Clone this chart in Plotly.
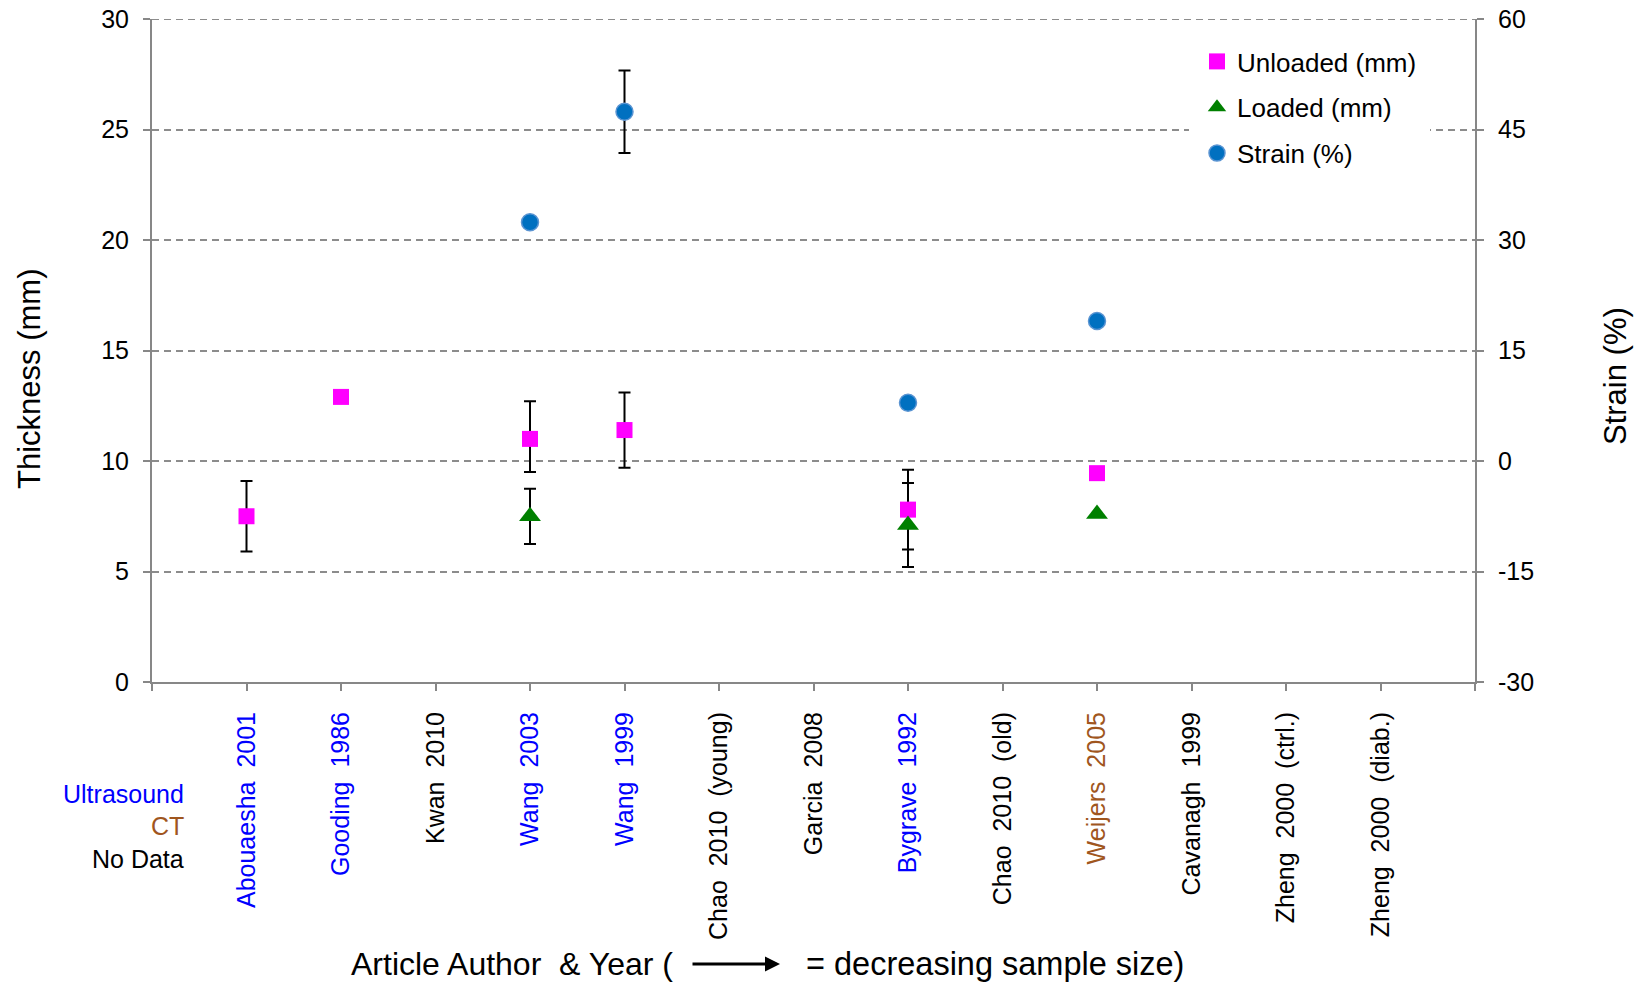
import plotly.graph_objects as go

# ---- data -------------------------------------------------------------
studies = [
    "Abouaesha  2001", "Gooding  1986", "Kwan  2010", "Wang  2003", "Wang  1999",
    "Chao  2010  (young)", "Garcia  2008", "Bygrave  1992", "Chao  2010  (old)",
    "Weijers  2005", "Cavanagh  1999", "Zheng  2000  (ctrl.)", "Zheng  2000  (diab.)",
]
modality = ["US", "US", "ND", "US", "US", "ND", "ND", "US", "ND", "CT", "ND", "ND", "ND"]

unloaded = [7.5, 12.9, None, 11.0, 11.4, None, None, 7.8, None, 9.45, None, None, None]
unloaded_err_plus = [1.6, None, None, 1.7, 1.7, None, None, 1.8, None, None, None, None, None]
unloaded_err_minus = [1.6, None, None, 1.5, 1.7, None, None, 1.8, None, None, None, None, None]

loaded = [None, None, None, 7.5, None, None, None, 7.1, None, 7.6, None, None, None]
loaded_err = [None, None, None, 1.25, None, None, None, 1.9, None, None, None, None, None]

strain = [None, None, None, 32.4, 47.4, None, None, 7.9, None, 19.0, None, None, None]
strain_err = [None, None, None, None, 5.6, None, None, None, None, None, None, None, None]

thickness_ticks = [0, 5, 10, 15, 20, 25, 30]
strain_ticks = [-30, -15, 0, 15, 30, 45, 60]
strain_tick_text = ["-30", "-15", "0", "15", "30", "45", "60"]

# ---- styling ----------------------------------------------------------
FONT = "Liberation Sans, Arial, sans-serif"
MOD_COLOR = {"US": "#0000FF", "CT": "#A0561E", "ND": "#000000"}
AXIS_GREY = "#878787"
GRID_GREY = "#8C8C8C"
GRID_DASH = "7px,5px"

W, H = 1641, 986
L, R, T, B = 152, 166, 19, 304
PW, PH = W - L - R, H - T - B


def px_x(x):
    return (x - L) / PW


def px_y(y):
    return (H - B - y) / PH


xpos = list(range(len(studies)))

fig = go.Figure()

# error bars first so the markers sit on top of them
err_style = dict(color="black", thickness=2, width=6)
fig.add_trace(go.Scatter(
    x=xpos, y=unloaded, mode="markers", marker=dict(size=1, opacity=0),
    error_y=dict(type="data", array=unloaded_err_plus, arrayminus=unloaded_err_minus,
                 symmetric=False, **err_style),
    showlegend=False, hoverinfo="skip"))
fig.add_trace(go.Scatter(
    x=xpos, y=loaded, mode="markers", marker=dict(size=1, opacity=0),
    error_y=dict(type="data", array=loaded_err, **err_style),
    showlegend=False, hoverinfo="skip"))
fig.add_trace(go.Scatter(
    x=xpos, y=strain, yaxis="y2", mode="markers", marker=dict(size=1, opacity=0),
    error_y=dict(type="data", array=strain_err, **err_style),
    showlegend=False, hoverinfo="skip"))

# markers
fig.add_trace(go.Scatter(
    x=xpos, y=unloaded, mode="markers", name="Unloaded (mm)", legendgroup="a",
    marker=dict(symbol="square", size=16, color="#FF00FF")))
fig.add_trace(go.Scatter(
    x=xpos, y=loaded, mode="markers", name="Loaded (mm)", legendgroup="b",
    marker=dict(symbol="triangle-up", size=19, color="#008000")))
fig.add_trace(go.Scatter(
    x=xpos, y=strain, yaxis="y2", mode="markers", name="Strain (%)", legendgroup="c",
    marker=dict(symbol="circle", size=17, color="#0070C0",
                line=dict(color="#5A94D2", width=1.5))))

# coloured study labels along the x axis
tickvals = [-1] + xpos + [len(studies)]
ticktext = [""] + [
    f'<span style="color:{MOD_COLOR[m]}">{s}</span>' for s, m in zip(studies, modality)
] + [""]

axis_common = dict(showline=True, linecolor=AXIS_GREY, linewidth=2,
                   ticks="outside", ticklen=7, tickwidth=2, tickcolor=AXIS_GREY,
                   zeroline=False, automargin=False)

fig.update_layout(
    width=W, height=H,
    margin=dict(l=L, r=R, t=T, b=B, pad=0, autoexpand=False),
    paper_bgcolor="white", plot_bgcolor="white",
    font=dict(family=FONT, size=25, color="black"),
    xaxis=dict(range=[-1, len(studies)], tickmode="array", tickvals=tickvals,
               ticktext=ticktext, tickangle=-90, showgrid=False,
               ticklabelstandoff=11, tickfont=dict(size=25), **axis_common),
    yaxis=dict(range=[thickness_ticks[0], thickness_ticks[-1]], tickmode="array",
               tickvals=thickness_ticks,
               showgrid=True, gridcolor=GRID_GREY, gridwidth=2, griddash=GRID_DASH,
               ticklabelstandoff=9, **axis_common),
    yaxis2=dict(range=[strain_ticks[0], strain_ticks[-1]], tickmode="array",
                tickvals=strain_ticks, ticktext=strain_tick_text,
                overlaying="y", side="right", showgrid=False,
                ticklabelstandoff=9, **axis_common),
    legend=dict(x=px_x(1189), y=px_y(30), xanchor="left", yanchor="top",
                bgcolor="white", bordercolor="white", borderwidth=8,
                font=dict(size=26), traceorder="grouped", tracegroupgap=9),
    showlegend=True,
)

# gridline along the top of the thickness range
fig.add_shape(type="line", xref="paper", yref="y", layer="below",
              x0=0, x1=1, y0=thickness_ticks[-1], y1=thickness_ticks[-1],
              line=dict(color=GRID_GREY, width=2, dash=GRID_DASH))

# axis titles
fig.add_annotation(text="Thickness (mm)", xref="paper", yref="paper",
                   x=px_x(29), y=px_y(379), showarrow=False, textangle=-90,
                   font=dict(size=31), xanchor="center", yanchor="middle")
fig.add_annotation(text="Strain (%)", xref="paper", yref="paper",
                   x=px_x(1615), y=px_y(376), showarrow=False, textangle=-90,
                   font=dict(size=31), xanchor="center", yanchor="middle")

# imaging modality key
for label, key, ypix in [("Ultrasound", "US", 794), ("CT", "CT", 826), ("No Data", "ND", 859)]:
    fig.add_annotation(text=label, xref="paper", yref="paper",
                       x=px_x(186), y=px_y(ypix), showarrow=False,
                       xanchor="right", yanchor="middle",
                       font=dict(size=25, color=MOD_COLOR[key]))

# x axis title with arrow
fig.add_annotation(text="Article Author  & Year (", xref="paper", yref="paper",
                   x=px_x(675), y=px_y(964), showarrow=False,
                   xanchor="right", yanchor="middle", font=dict(size=32))
fig.add_annotation(text="= decreasing sample size)", xref="paper", yref="paper",
                   x=px_x(804), y=px_y(964), showarrow=False,
                   xanchor="left", yanchor="middle", font=dict(size=32.5))
fig.add_annotation(text="", xref="paper", yref="paper",
                   x=px_x(780), y=px_y(964), ax=-89, ay=0,
                   axref="pixel", ayref="pixel", showarrow=True,
                   arrowhead=2, arrowsize=1, arrowwidth=3, arrowcolor="black")

fig.write_html("out.html")
